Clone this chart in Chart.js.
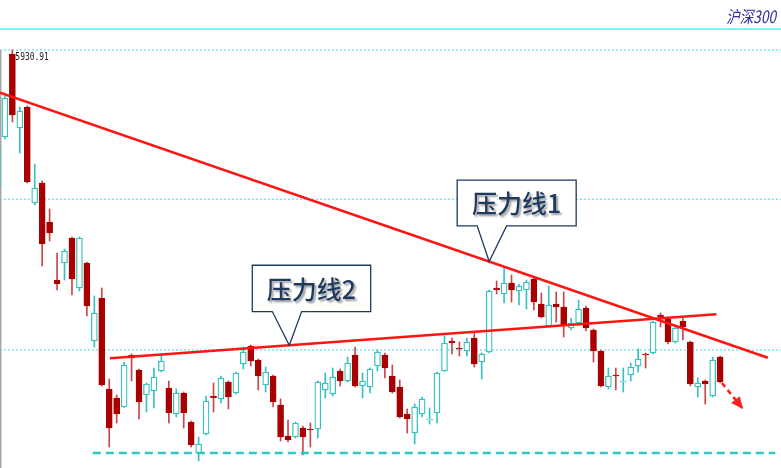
<!DOCTYPE html>
<html>
<head>
<meta charset="utf-8">
<script src="https://cdn.jsdelivr.net/npm/chart.js@4.4.0/dist/chart.umd.min.js"></script>
<style>
  html, body { margin: 0; padding: 0; background: #fff; }
  #c { display: block; }
</style>
</head>
<body>
<canvas id="c" width="781" height="468"></canvas>
<script>
(() => {
  'use strict';

  // K线数据
  const opens  = [4971, 5321, 5902, 5384, 5531, 4859, 4999, 4726, 4320, 4439,
                  4614, 4264, 4439, 3893, 4194, 3557, 3494, 3431, 3795, 3690,
                  3515, 3543, 3683, 3564, 3382, 3529, 3326, 3109, 3242, 3508,
                  3487, 3606, 3529, 3732, 3858, 3760, 3585, 3648, 3445, 3228,
                  3221, 3284, 3277, 3277, 3550, 3522, 3683, 3613, 3795, 3578,
                  3571, 3718, 3795, 3648, 3571, 3382, 3249, 3382, 3340, 3389,
                  3683, 3893, 3844, 3823, 3914, 3746, 3816, 4264, 4222, 4299,
                  4243, 4250, 4327, 4152, 3998, 4152, 4131, 3984, 4019, 4124,
                  3970, 3823, 3571, 3655, 3606, 3655, 3718, 3802, 3809, 4075,
                  4047, 3886, 4033, 3886, 3571, 3613, 3508, 3781];
  const closes = [5258, 5594, 5475, 5503, 5006, 4964, 4572, 4649, 4292, 4523,
                  4327, 4614, 4138, 4089, 3585, 3284, 3382, 3725, 3774, 3466,
                  3592, 3641, 3753, 3389, 3529, 3389, 3165, 3172, 3473, 3494,
                  3634, 3501, 3669, 3816, 3753, 3648, 3676, 3466, 3221, 3200,
                  3319, 3221, 3270, 3606, 3599, 3641, 3613, 3739, 3578, 3613,
                  3697, 3816, 3704, 3536, 3361, 3347, 3431, 3487, 3347, 3669,
                  3879, 3879, 3837, 3886, 3732, 3802, 4243, 4250, 4299, 4250,
                  4278, 4306, 4166, 4061, 4145, 4131, 3998, 4019, 4117, 3984,
                  3823, 3578, 3648, 3648, 3613, 3711, 3767, 3795, 4026, 4061,
                  3886, 3984, 3991, 3592, 3599, 3592, 3760, 3606];
  const highs  = [5265, 5608, 5930.91, 5531, 5538, 5132, 5013, 4817, 4509, 4537,
                  4621, 4621, 4446, 4208, 4264, 3627, 3515, 3746, 3802, 3697,
                  3599, 3704, 3795, 3613, 3557, 3536, 3333, 3221, 3508, 3599,
                  3648, 3613, 3676, 3851, 3865, 3767, 3711, 3655, 3487, 3340,
                  3326, 3298, 3319, 3613, 3669, 3704, 3697, 3781, 3851, 3669,
                  3704, 3830, 3809, 3725, 3620, 3417, 3452, 3501, 3424, 3676,
                  3928, 3914, 3886, 3914, 3949, 3809, 4250, 4313, 4404, 4355,
                  4292, 4320, 4334, 4229, 4278, 4236, 4236, 4054, 4180, 4138,
                  3977, 3830, 3704, 3704, 3704, 3739, 3837, 3809, 4033, 4089,
                  4061, 3998, 4054, 3893, 3634, 3620, 3781, 3788];
  const lows   = [4964, 5307, 5426, 5209, 4999, 4845, 4418, 4593, 4250, 4320,
                  4215, 4243, 4068, 3851, 3578, 3151, 3319, 3428, 3613, 3347,
                  3396, 3424, 3676, 3319, 3361, 3284, 3151, 3053, 3235, 3396,
                  3459, 3417, 3522, 3697, 3718, 3550, 3536, 3431, 3193, 3186,
                  3214, 3095, 3151, 3214, 3494, 3508, 3578, 3606, 3571, 3494,
                  3529, 3683, 3634, 3529, 3354, 3249, 3172, 3361, 3312, 3319,
                  3680, 3802, 3788, 3788, 3711, 3627, 3809, 4222, 4159, 4166,
                  4145, 4117, 4110, 4054, 3991, 4026, 3921, 3970, 4012, 3963,
                  3746, 3571, 3557, 3550, 3536, 3613, 3676, 3704, 3802, 3991,
                  3872, 3879, 3900, 3578, 3501, 3452, 3501, 3599];

  // 水平线与趋势线（价格）
  const gridValues = [5930, 4885, 3830];
  const topLineValue = 6077;
  const supportLine = [{ x: 12.8, y: 3109 }, { x: 104.4, y: 3109 }];
  const line1 = [{ x: 0.34, y: 5631 }, { x: 103.4, y: 3776 }];
  const line2 = [{ x: 15.1, y: 3772 }, { x: 96.5, y: 4080 }];
  const arrowLine = [{ x: 97.25, y: 3599 }, { x: 100.07, y: 3417 }];

  const titleText = '沪深300';
  const callouts = [
    { text: '压力线1', line: line1, at: 66.0, box: [-32, 87, -81.5, -35.7], base: [-12, 17.4] },
    { text: '压力线2', line: line2, at: 39.17, box: [-37, 81.4, -80, -33.7], base: [-17, 12.4] }
  ];

  const UP = '#36c2c2';
  const DOWN = '#a80000';
  const DOWN_WICK = '#c84848';

  const idx = opens.map((_, i) => i);
  const isUp = idx.map(i => closes[i] >= opens[i]);

  const bodies = idx.map(i => ({ x: i, y: [opens[i], closes[i]] }));
  const wicks = idx.map(i => ({ x: i, y: [lows[i], highs[i]] }));

  function lineValueAt(line, xv) {
    const [a, b] = line;
    return a.y + (xv - a.x) / (b.x - a.x) * (b.y - a.y);
  }

  function scaledText(ctx, text, x, y, sx) {
    ctx.save();
    ctx.translate(x, y);
    ctx.scale(sx, 1);
    ctx.fillText(text, 0, 0);
    ctx.restore();
  }

  const decor = {
    id: 'decor',
    beforeDatasetsDraw(chart) {
      const { ctx, chartArea: a, scales: { y } } = chart;
      ctx.save();
      const yt = y.getPixelForValue(topLineValue);
      ctx.strokeStyle = '#80f2f4';
      ctx.lineWidth = 1.8;
      ctx.beginPath(); ctx.moveTo(a.left, yt); ctx.lineTo(a.right, yt); ctx.stroke();

      ctx.setLineDash([2, 2]);
      ctx.lineWidth = 1.5;
      ctx.strokeStyle = '#7ce6f0';
      gridValues.forEach(v => {
        const py = y.getPixelForValue(v);
        ctx.beginPath(); ctx.moveTo(a.left, py); ctx.lineTo(a.right, py); ctx.stroke();
      });
      ctx.setLineDash([]);

      ctx.strokeStyle = '#a8a8a8';
      ctx.lineWidth = 1.5;
      ctx.beginPath();
      ctx.moveTo(0.75, y.getPixelForValue(gridValues[0]));
      ctx.lineTo(0.75, a.bottom);
      ctx.stroke();
      ctx.restore();
    },
    afterDatasetsDraw(chart) {
      const { ctx, scales: { x, y } } = chart;
      ctx.save();

      // 标题
      ctx.font = 'italic 17px "Noto Sans CJK SC"';
      ctx.fillStyle = '#2e2ea0';
      ctx.textAlign = 'right';
      ctx.textBaseline = 'middle';
      scaledText(ctx, titleText, 776, 16.5, 0.8);

      // 最高价标注
      let top = 0;
      highs.forEach((h, i) => { if (h > highs[top]) top = i; });
      ctx.font = '11px "DejaVu Sans Mono"';
      ctx.fillStyle = '#222';
      ctx.textAlign = 'left';
      ctx.textBaseline = 'top';
      scaledText(ctx, highs[top].toFixed(2), x.getPixelForValue(top) + 3, y.getPixelForValue(highs[top]) + 1.5, 0.72);

      // 箭头
      const p0 = { x: x.getPixelForValue(arrowLine[0].x), y: y.getPixelForValue(arrowLine[0].y) };
      const p1 = { x: x.getPixelForValue(arrowLine[1].x), y: y.getPixelForValue(arrowLine[1].y) };
      const ang = Math.atan2(p1.y - p0.y, p1.x - p0.x);
      ctx.fillStyle = '#ff1e1e';
      ctx.beginPath();
      ctx.moveTo(p1.x, p1.y);
      ctx.lineTo(p1.x - 12 * Math.cos(ang) + 5.5 * Math.sin(ang), p1.y - 12 * Math.sin(ang) - 5.5 * Math.cos(ang));
      ctx.lineTo(p1.x - 12 * Math.cos(ang) - 5.5 * Math.sin(ang), p1.y - 12 * Math.sin(ang) + 5.5 * Math.cos(ang));
      ctx.closePath();
      ctx.fill();

      // 标注框
      callouts.forEach(c => {
        const tx = x.getPixelForValue(c.at);
        const ty = y.getPixelForValue(lineValueAt(c.line, c.at));
        const [l, r, t, b] = c.box;
        ctx.beginPath();
        ctx.moveTo(tx + l, ty + t);
        ctx.lineTo(tx + r, ty + t);
        ctx.lineTo(tx + r, ty + b);
        ctx.lineTo(tx + c.base[1], ty + b);
        ctx.lineTo(tx, ty);
        ctx.lineTo(tx + c.base[0], ty + b);
        ctx.lineTo(tx + l, ty + b);
        ctx.closePath();
        ctx.fillStyle = '#fff';
        ctx.fill();
        ctx.strokeStyle = '#1f3a60';
        ctx.lineWidth = 1.3;
        ctx.lineJoin = 'miter';
        ctx.stroke();

        ctx.save();
        ctx.font = '500 25px "Noto Sans CJK SC"';
        ctx.fillStyle = '#1e3a5f';
        ctx.textAlign = 'center';
        ctx.textBaseline = 'middle';
        ctx.shadowColor = 'rgba(0,0,0,0.38)';
        ctx.shadowOffsetX = 2;
        ctx.shadowOffsetY = 2;
        ctx.shadowBlur = 2;
        ctx.fillText(c.text, tx + (l + r) / 2, ty + (t + b) / 2 + 1);
        ctx.restore();
      });

      ctx.restore();
    }
  };

  new Chart(document.getElementById('c'), {
    type: 'bar',
    data: {
      datasets: [
        {
          type: 'line', data: line1, order: 0,
          borderColor: '#ff1414', borderWidth: 2.6, pointRadius: 0
        },
        {
          type: 'line', data: line2, order: 0,
          borderColor: '#ff1414', borderWidth: 2.6, pointRadius: 0
        },
        {
          type: 'line', data: supportLine, order: 0,
          borderColor: '#33c6c6', borderWidth: 2.5, borderDash: [8, 5], pointRadius: 0
        },
        {
          type: 'line', data: arrowLine, order: 0,
          borderColor: '#ff1e1e', borderWidth: 2.5, borderDash: [5, 4], pointRadius: 0
        },
        {
          data: bodies, order: 1, grouped: false,
          barThickness: 6, borderSkipped: false, borderWidth: 1.3,
          backgroundColor: idx.map(i => isUp[i] ? '#ffffff' : DOWN),
          borderColor: idx.map(i => isUp[i] ? UP : DOWN)
        },
        {
          data: wicks, order: 2, grouped: false,
          barThickness: 1, borderWidth: 0,
          backgroundColor: idx.map(i => isUp[i] ? UP : DOWN_WICK)
        }
      ]
    },
    options: {
      responsive: false,
      animation: false,
      layout: { padding: 0 },
      plugins: {
        legend: { display: false },
        tooltip: { enabled: false }
      },
      scales: {
        x: { type: 'linear', min: 0.34, max: 105.17, offset: false, display: false, grid: { offset: false } },
        y: { min: 3004, max: 6280, display: false }
      }
    },
    plugins: [decor]
  });
})();
</script>
</body>
</html>
